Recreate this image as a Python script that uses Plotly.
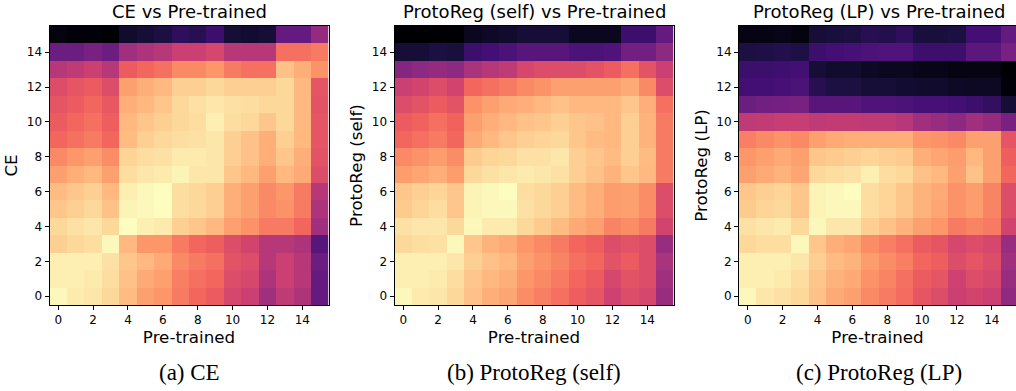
import plotly.graph_objects as go

layers = list(range(16))
tick_vals = [0, 2, 4, 6, 8, 10, 12, 14]
tick_text = [str(v) for v in tick_vals]

# rows listed from y=15 (top) down to y=0 (bottom)
ce_rows_top_down = [
    [0.02, 0.01, 0.01, 0.00, 0.08, 0.10, 0.12, 0.17, 0.15, 0.20, 0.10, 0.09, 0.10, 0.30, 0.30, 0.42],
    [0.32, 0.32, 0.35, 0.32, 0.45, 0.48, 0.50, 0.55, 0.55, 0.58, 0.50, 0.50, 0.50, 0.70, 0.70, 0.72],
    [0.50, 0.52, 0.55, 0.50, 0.65, 0.68, 0.70, 0.75, 0.75, 0.78, 0.72, 0.70, 0.70, 0.87, 0.83, 0.77],
    [0.60, 0.63, 0.65, 0.60, 0.80, 0.83, 0.85, 0.90, 0.90, 0.92, 0.90, 0.90, 0.90, 0.92, 0.85, 0.63],
    [0.63, 0.65, 0.68, 0.64, 0.83, 0.85, 0.88, 0.92, 0.94, 0.95, 0.94, 0.93, 0.92, 0.92, 0.85, 0.62],
    [0.65, 0.68, 0.70, 0.66, 0.85, 0.88, 0.90, 0.92, 0.93, 0.97, 0.93, 0.92, 0.88, 0.92, 0.85, 0.63],
    [0.68, 0.70, 0.72, 0.68, 0.86, 0.90, 0.92, 0.93, 0.94, 0.95, 0.90, 0.87, 0.83, 0.90, 0.85, 0.63],
    [0.75, 0.78, 0.80, 0.76, 0.91, 0.93, 0.94, 0.96, 0.96, 0.95, 0.90, 0.87, 0.83, 0.88, 0.83, 0.62],
    [0.80, 0.83, 0.85, 0.80, 0.93, 0.95, 0.96, 0.98, 0.95, 0.95, 0.88, 0.85, 0.80, 0.85, 0.82, 0.60],
    [0.86, 0.88, 0.90, 0.85, 0.97, 0.99, 1.00, 0.93, 0.92, 0.90, 0.83, 0.80, 0.75, 0.78, 0.72, 0.50],
    [0.88, 0.90, 0.92, 0.87, 0.98, 0.99, 1.00, 0.93, 0.92, 0.90, 0.83, 0.80, 0.75, 0.77, 0.72, 0.48],
    [0.92, 0.94, 0.95, 0.92, 1.00, 0.97, 0.96, 0.90, 0.88, 0.85, 0.80, 0.77, 0.72, 0.72, 0.68, 0.45],
    [0.90, 0.92, 0.93, 0.99, 0.85, 0.78, 0.78, 0.72, 0.68, 0.66, 0.60, 0.57, 0.50, 0.50, 0.48, 0.27],
    [0.97, 0.97, 0.97, 0.94, 0.88, 0.85, 0.82, 0.75, 0.72, 0.70, 0.62, 0.60, 0.50, 0.55, 0.50, 0.32],
    [0.97, 0.97, 0.96, 0.93, 0.87, 0.82, 0.80, 0.73, 0.70, 0.68, 0.60, 0.58, 0.48, 0.55, 0.50, 0.30],
    [0.99, 0.96, 0.95, 0.92, 0.86, 0.80, 0.78, 0.72, 0.68, 0.65, 0.58, 0.55, 0.45, 0.52, 0.48, 0.30],
]

self_rows_top_down = [
    [0.00, 0.00, 0.00, 0.00, 0.05, 0.07, 0.08, 0.10, 0.10, 0.10, 0.05, 0.05, 0.05, 0.20, 0.20, 0.30],
    [0.10, 0.10, 0.12, 0.11, 0.20, 0.22, 0.24, 0.27, 0.27, 0.27, 0.24, 0.24, 0.25, 0.33, 0.33, 0.40],
    [0.38, 0.40, 0.42, 0.40, 0.47, 0.50, 0.52, 0.58, 0.60, 0.60, 0.60, 0.62, 0.65, 0.70, 0.62, 0.55],
    [0.55, 0.57, 0.60, 0.57, 0.68, 0.70, 0.72, 0.75, 0.77, 0.80, 0.80, 0.80, 0.80, 0.82, 0.75, 0.60],
    [0.60, 0.62, 0.65, 0.62, 0.77, 0.80, 0.82, 0.83, 0.85, 0.87, 0.85, 0.85, 0.85, 0.88, 0.83, 0.70],
    [0.65, 0.67, 0.70, 0.67, 0.80, 0.83, 0.85, 0.87, 0.88, 0.90, 0.88, 0.87, 0.85, 0.90, 0.84, 0.72],
    [0.68, 0.70, 0.72, 0.68, 0.82, 0.85, 0.88, 0.90, 0.91, 0.92, 0.88, 0.86, 0.85, 0.90, 0.84, 0.72],
    [0.75, 0.77, 0.79, 0.76, 0.89, 0.91, 0.92, 0.94, 0.94, 0.95, 0.90, 0.88, 0.86, 0.90, 0.86, 0.72],
    [0.79, 0.81, 0.83, 0.79, 0.92, 0.94, 0.95, 0.96, 0.95, 0.94, 0.90, 0.87, 0.84, 0.88, 0.85, 0.72],
    [0.88, 0.90, 0.91, 0.88, 0.98, 0.99, 1.00, 0.93, 0.92, 0.90, 0.86, 0.83, 0.79, 0.80, 0.76, 0.60],
    [0.89, 0.91, 0.93, 0.88, 0.98, 0.99, 0.99, 0.94, 0.92, 0.90, 0.86, 0.83, 0.79, 0.80, 0.76, 0.60],
    [0.94, 0.95, 0.95, 0.92, 0.99, 0.96, 0.96, 0.92, 0.89, 0.86, 0.82, 0.80, 0.74, 0.76, 0.72, 0.57],
    [0.92, 0.93, 0.94, 0.99, 0.88, 0.84, 0.82, 0.78, 0.75, 0.72, 0.68, 0.66, 0.60, 0.62, 0.60, 0.43],
    [0.97, 0.97, 0.97, 0.95, 0.90, 0.87, 0.85, 0.80, 0.77, 0.74, 0.70, 0.68, 0.62, 0.65, 0.60, 0.47],
    [0.97, 0.97, 0.96, 0.93, 0.88, 0.85, 0.83, 0.78, 0.75, 0.72, 0.68, 0.65, 0.58, 0.62, 0.60, 0.45],
    [0.99, 0.96, 0.95, 0.92, 0.87, 0.83, 0.81, 0.76, 0.73, 0.70, 0.66, 0.63, 0.56, 0.60, 0.58, 0.43],
]

lp_rows_top_down = [
    [0.03, 0.03, 0.04, 0.02, 0.10, 0.11, 0.12, 0.15, 0.14, 0.17, 0.11, 0.11, 0.12, 0.22, 0.22, 0.30],
    [0.12, 0.13, 0.14, 0.13, 0.20, 0.22, 0.23, 0.24, 0.25, 0.25, 0.20, 0.20, 0.20, 0.28, 0.28, 0.35],
    [0.20, 0.20, 0.21, 0.22, 0.10, 0.08, 0.08, 0.06, 0.05, 0.05, 0.04, 0.04, 0.03, 0.03, 0.03, 0.00],
    [0.22, 0.22, 0.23, 0.24, 0.15, 0.12, 0.12, 0.10, 0.10, 0.09, 0.08, 0.08, 0.07, 0.06, 0.06, 0.01],
    [0.32, 0.33, 0.34, 0.35, 0.27, 0.27, 0.27, 0.25, 0.25, 0.24, 0.23, 0.23, 0.22, 0.20, 0.18, 0.10],
    [0.52, 0.53, 0.54, 0.54, 0.52, 0.53, 0.53, 0.52, 0.52, 0.50, 0.45, 0.43, 0.40, 0.45, 0.42, 0.35],
    [0.73, 0.75, 0.77, 0.75, 0.80, 0.82, 0.83, 0.83, 0.83, 0.83, 0.78, 0.77, 0.75, 0.80, 0.80, 0.63],
    [0.78, 0.80, 0.82, 0.80, 0.88, 0.89, 0.90, 0.91, 0.90, 0.89, 0.83, 0.81, 0.79, 0.85, 0.80, 0.66],
    [0.80, 0.82, 0.84, 0.81, 0.92, 0.93, 0.94, 0.97, 0.93, 0.92, 0.87, 0.85, 0.80, 0.87, 0.80, 0.68],
    [0.88, 0.90, 0.91, 0.88, 0.98, 0.99, 1.00, 0.93, 0.91, 0.88, 0.84, 0.82, 0.77, 0.79, 0.74, 0.60],
    [0.89, 0.91, 0.92, 0.88, 0.98, 0.99, 0.99, 0.93, 0.91, 0.88, 0.84, 0.81, 0.77, 0.79, 0.74, 0.60],
    [0.94, 0.95, 0.96, 0.92, 0.99, 0.95, 0.95, 0.90, 0.87, 0.84, 0.80, 0.78, 0.72, 0.74, 0.72, 0.57],
    [0.92, 0.93, 0.93, 0.99, 0.88, 0.83, 0.81, 0.76, 0.73, 0.70, 0.65, 0.63, 0.58, 0.60, 0.58, 0.43],
    [0.97, 0.97, 0.97, 0.95, 0.90, 0.86, 0.84, 0.79, 0.76, 0.73, 0.68, 0.66, 0.60, 0.63, 0.60, 0.45],
    [0.97, 0.97, 0.96, 0.93, 0.88, 0.84, 0.82, 0.77, 0.74, 0.70, 0.65, 0.63, 0.56, 0.60, 0.58, 0.43],
    [0.99, 0.95, 0.94, 0.92, 0.87, 0.82, 0.80, 0.75, 0.72, 0.69, 0.63, 0.60, 0.55, 0.57, 0.55, 0.41],
]

panel_titles = ["CE vs Pre-trained", "ProtoReg (self) vs Pre-trained", "ProtoReg (LP) vs Pre-trained"]
y_titles = ["CE", "ProtoReg (self)", "ProtoReg (LP)"]
x_title = "Pre-trained"
captions = ["(a) CE", "(b) ProtoReg (self)", "(c) ProtoReg (LP)"]
matrices = [ce_rows_top_down, self_rows_top_down, lp_rows_top_down]

W, H = 1016, 391
cell = 279 / 16.0
x_left = [49.5, 394.5, 739]
y_px = (26, 305)

fig = go.Figure()
font = "DejaVu Sans, Arial, sans-serif"

for i, (rows, x0) in enumerate(zip(matrices, x_left)):
    z = rows[::-1]  # row index 0 = bottom
    sfx = "" if i == 0 else str(i + 1)
    full_right = x0 + 279
    x1 = min(full_right, W)
    x_hi = -0.5 + (x1 - x0) / cell
    clipped = full_right > W
    fig.add_trace(go.Heatmap(
        z=z, x=layers, y=layers, colorscale="Magma", zmin=0, zmax=1,
        showscale=False, xaxis="x" + sfx, yaxis="y" + sfx, hoverinfo="skip",
    ))
    axis_common = dict(
        tickmode="array", tickvals=tick_vals, ticktext=tick_text,
        ticks="outside", ticklen=4, tickwidth=1, tickcolor="black",
        showline=True, linecolor="black", linewidth=1, mirror=True,
        showgrid=False, zeroline=False, automargin=False,
        tickfont=dict(family=font, size=12, color="black"),
    )
    fig.layout["xaxis" + sfx] = dict(
        axis_common, range=[-0.5, x_hi], domain=[x0 / W, x1 / W], anchor="y" + sfx,
        title=dict(text=x_title, font=dict(family=font, size=16.7, color="black"), standoff=2),
    )
    fig.layout["yaxis" + sfx] = dict(
        axis_common, range=[-0.5, 15.5], domain=[1 - y_px[1] / H, 1 - y_px[0] / H], anchor="x" + sfx,
        title=dict(text=y_titles[i], font=dict(family=font, size=16.7, color="black"), standoff=4),
    )
    if clipped:
        fig.layout["yaxis" + sfx].mirror = False
    cx = (x0 + full_right) / 2 / W
    fig.add_annotation(text=panel_titles[i], x=min(cx, 1.0), y=1 - 12 / H, xref="paper", yref="paper",
                       showarrow=False, xanchor="center", yanchor="middle",
                       font=dict(family=font, size=18, color="black"))
    fig.add_annotation(text=captions[i], x=cx, y=1 - 372 / H, xref="paper", yref="paper",
                       showarrow=False, xanchor="center", yanchor="middle",
                       font=dict(family="Liberation Serif, Times New Roman, serif", size=23, color="black"))

fig.update_layout(
    width=W, height=H, margin=dict(l=0, r=0, t=0, b=0),
    paper_bgcolor="white", plot_bgcolor="white",
)

fig.write_html(
    "out.html",
    config={"displayModeBar": False, "staticPlot": True},
    post_script="document.body.style.margin='0';document.body.style.overflow='hidden';",
)
